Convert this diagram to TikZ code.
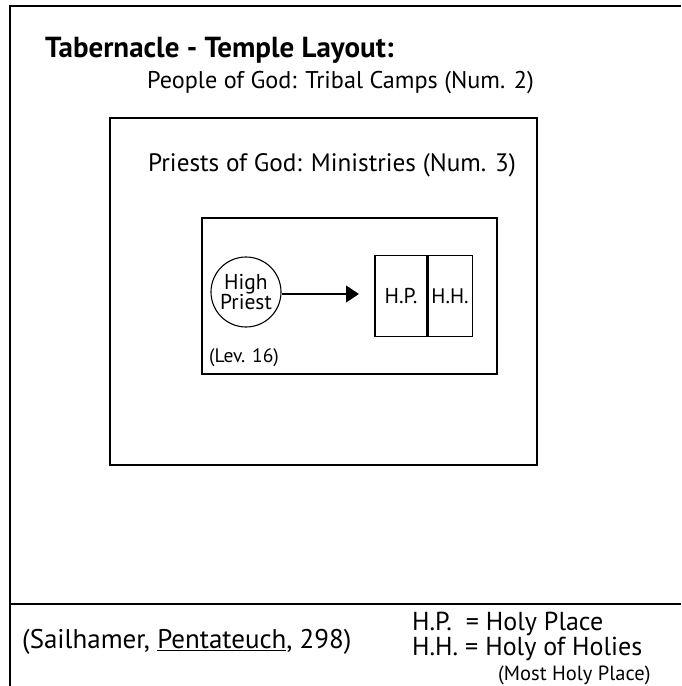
\documentclass[tikz,border=0pt]{standalone}
\usepackage{fontspec}
\setmainfont{PT Sans}
\usetikzlibrary{arrows.meta}
\tikzset{
  frame/.style={draw, line width=1.1pt},
  txt/.style={inner sep=0pt, anchor=base west},
}
\begin{document}
\begin{tikzpicture}[x=1pt,y=-1pt]
\useasboundingbox (0,0) rectangle (681,686);
% outer page frame
\draw[frame] (10,686) -- (10,6) -- (681,6);
\draw[frame] (10,604) -- (681,604);
% title and camp label
\node[txt, font=\fontsize{29}{30}\selectfont\bfseries] (title) at (45,57) {Tabernacle - Temple Layout:};
\node[txt, font=\fontsize{24.2}{26}\selectfont] (people) at (147,88) {People of God: Tribal Camps (Num. 2)};
% priests box
\draw[frame] (110,118) rectangle (537,465);
\node[txt, font=\fontsize{25.2}{26}\selectfont] (priests) at (148,171) {Priests of God: Ministries (Num. 3)};
% inner court
\draw[frame] (202,218) rectangle (497,374);
\node[circle, draw, line width=1.1pt, minimum size=70pt, inner sep=0pt, align=center,
      font=\fontsize{21.5}{19}\selectfont] (hp) at (246,292) {High\\Priest};
\node[txt, font=\fontsize{19.5}{20}\selectfont] (lev) at (209,362) {(Lev. 16)};
% sanctuary
\node[draw, line width=1.1pt, minimum width=52pt, minimum height=81pt, inner sep=0pt,
      font=\fontsize{21.5}{21}\selectfont] (place) at (401,296) {H.P.};
\node[draw, line width=1.1pt, minimum width=44pt, minimum height=81pt, inner sep=0pt,
      font=\fontsize{21}{21}\selectfont, anchor=west] (holies) at (place.east) {H.H.};
\coordinate (tip) at (359,294);
\draw[line width=1.1pt, -{Triangle[length=13pt,width=17pt]}] (hp.east |- tip) -- (tip);
% source and legend
\node[txt, font=\fontsize{27}{27}\selectfont] (src) at (22,648) {(Sailhamer, \underline{Pentateuch}, 298)};
\node[inner sep=0pt, anchor=base west, align=left, font=\fontsize{26}{23}\selectfont] (legend) at (412,655)
  {H.P.\ \ = Holy Place\\
   H.H. = Holy of Holies};
\node[txt, font=\fontsize{20.5}{21}\selectfont] (most) at (498,680) {(Most Holy Place)};
\end{tikzpicture}
\end{document}
